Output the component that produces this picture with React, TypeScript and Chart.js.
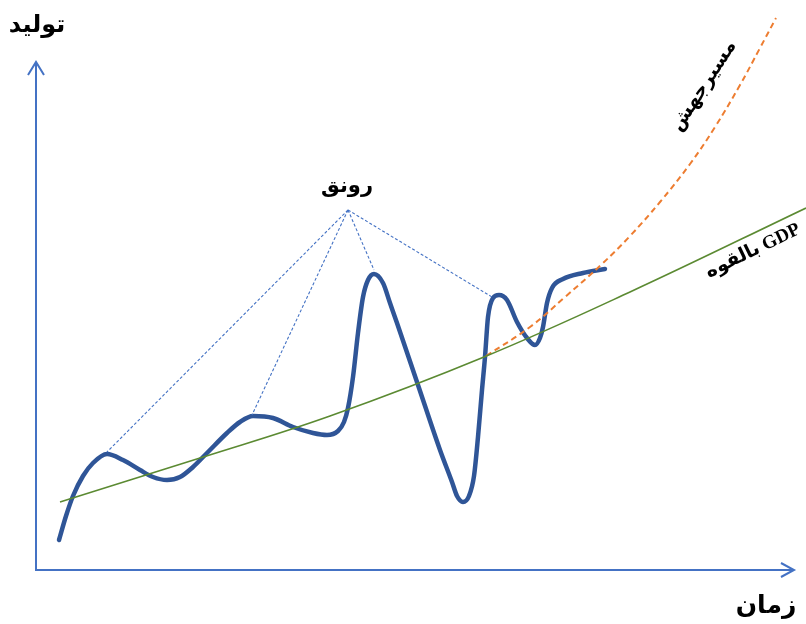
import React, { useEffect, useRef } from "react";
import { Chart, registerables } from "chart.js";

Chart.register(...registerables);

// Time (x) and output (y) in arbitrary units
const cycleTime = [59, 66, 73, 83, 93, 107, 123, 140, 153, 167, 180, 193, 207, 227, 240, 253, 273, 293, 313, 327, 338, 344, 348, 353, 358, 363, 368, 374, 383, 390, 397, 418, 440, 452, 457, 463, 469, 474, 478, 482, 485, 488, 493, 499, 507, 517, 527, 535, 540, 543, 547, 552, 563, 583, 605];
const cycleOutput = [84, 108, 128, 148, 161, 170, 164, 154, 147, 144, 147, 157, 171, 191, 202, 208, 206, 197, 191, 189, 193, 202, 216, 247, 291, 327, 344, 350, 341, 321, 301, 239, 174, 142, 128, 122, 128, 148, 187, 234, 267, 307, 326, 329, 324, 302, 286, 279, 286, 297, 321, 336, 345, 351, 355];

const potentialTime = [60, 200, 330, 484, 630, 806];
const potentialOutput = [122, 166, 208, 267, 332, 416];

const jumpTime = [486, 530, 565, 602, 630, 660, 690, 715, 740, 760, 776];
const jumpOutput = [268, 297, 327, 360, 388, 422, 460, 497, 539, 576, 606];

const boomApex = { x: 348, y: 414 };
const boomPeaksTime = [107, 252, 374, 492];
const boomPeaksOutput = [172, 209, 354, 327];

const axisOrigin = { x: 36, y: 54 };
const axisYEnd = 562;
const axisXEnd = 794;

const labels = {
  yAxis: "تولید",
  xAxis: "زمان",
  boom: "رونق",
  jump: "مسیرجهش",
  potential: "GDP بالقوه",
};

const pts = (xs: number[], ys: number[]) => xs.map((x, i) => ({ x, y: ys[i] }));

export default function App() {
  const ref = useRef<HTMLCanvasElement | null>(null);
  useEffect(() => {
    if (!ref.current) return;
    const axisColor = "#4472C4";
    const leaderSets = boomPeaksTime.map((t, i) => ({
      data: [boomApex, { x: t, y: boomPeaksOutput[i] }],
      borderColor: axisColor,
      borderWidth: 1.1,
      borderDash: [3, 2],
      pointRadius: 0,
      tension: 0,
      clip: false as any,
    }));
    const textPlugin = {
      id: "texts",
      afterDatasetsDraw(chart: any) {
        const { ctx } = chart;
        const sx = chart.scales.x;
        const sy = chart.scales.y;
        const draw = (t: string, x: number, y: number, size: number, rot: number) => {
          ctx.save();
          ctx.translate(sx.getPixelForValue(x), sy.getPixelForValue(y));
          ctx.rotate((rot * Math.PI) / 180);
          ctx.font = `bold ${size}px "Liberation Serif", "DejaVu Sans", serif`;
          ctx.fillStyle = "#000";
          ctx.textAlign = "center";
          ctx.textBaseline = "middle";
          (ctx as any).direction = "rtl";
          ctx.fillText(t, 0, 0);
          ctx.restore();
        };
        draw(labels.yAxis, 37, 598, 24, 0);
        draw(labels.xAxis, 766, 17, 25, 0);
        draw(labels.boom, 347, 437, 21, 0);
        draw(labels.jump, 704, 538, 19, -57);
        draw(labels.potential, 753, 373, 19, -26);
      },
    };
    const chart = new Chart(ref.current, {
      type: "line",
      data: {
        datasets: [
          {
            data: [{ x: axisOrigin.x, y: axisYEnd }, axisOrigin, { x: axisXEnd, y: axisOrigin.y }],
            borderColor: axisColor, borderWidth: 2, pointRadius: 0, tension: 0, clip: false as any,
          },
          {
            data: [{ x: 28, y: 549 }, { x: 36, y: axisYEnd }, { x: 44, y: 549 }],
            borderColor: axisColor, borderWidth: 2, pointRadius: 0, tension: 0, clip: false as any,
          },
          {
            data: [{ x: 781, y: 61 }, { x: axisXEnd, y: axisOrigin.y }, { x: 781, y: 47 }],
            borderColor: axisColor, borderWidth: 2, pointRadius: 0, tension: 0, clip: false as any,
          },
          ...leaderSets,
          {
            data: pts(potentialTime, potentialOutput),
            borderColor: "#5B8A32", borderWidth: 1.6, pointRadius: 0,
            tension: 0.4, clip: false as any,
          },
          {
            data: pts(jumpTime, jumpOutput),
            borderColor: "#ED7D31", borderWidth: 2, borderDash: [6, 4], pointRadius: 0,
            tension: 0.4, clip: false as any,
          },
          {
            data: pts(cycleTime, cycleOutput),
            borderColor: "#2F5597", borderWidth: 4.5, pointRadius: 0,
            cubicInterpolationMode: "monotone", borderCapStyle: "round", borderJoinStyle: "round",
            clip: false as any,
          },
        ] as any,
      },
      options: {
        animation: false,
        responsive: false,
        layout: { padding: 0 },
        plugins: { legend: { display: false }, tooltip: { enabled: false } },
        scales: {
          x: { type: "linear", min: 0, max: 806, display: false },
          y: { type: "linear", min: 0, max: 624, display: false },
        },
      },
      plugins: [textPlugin],
    });
    return () => chart.destroy();
  }, []);
  return (
    <div style={{ position: "absolute", left: 0, top: 0, width: 806, height: 624, background: "#fff" }}>
      <canvas ref={ref} width={806} height={624} style={{ width: 806, height: 624 }} />
    </div>
  );
}
